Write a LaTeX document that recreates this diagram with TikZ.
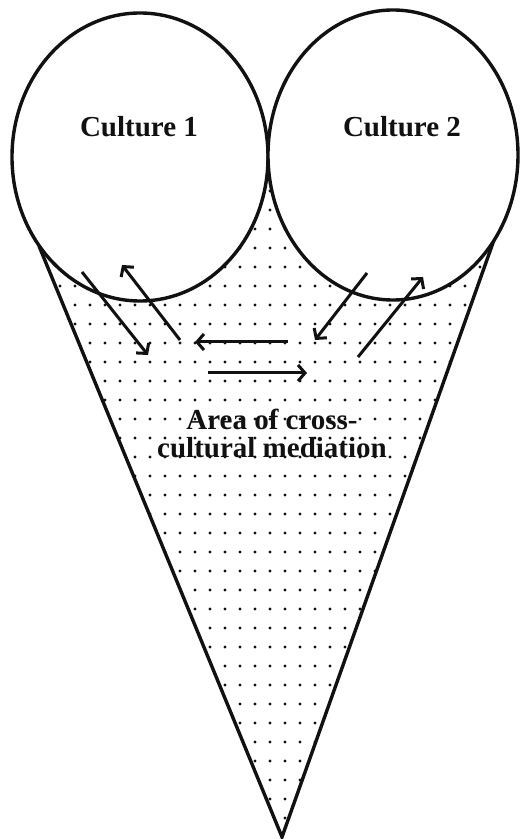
\documentclass[tikz,border=0pt]{standalone}
\usepackage{fontspec}
\setmainfont{Liberation Serif}
\usepackage{xcolor}
\usepackage{tikz}
\usetikzlibrary{arrows.meta}
\definecolor{Ink}{HTML}{111111}

\begin{document}
\begin{tikzpicture}[
  x=1pt, y=1pt,
  culture/.style={draw=Ink, line width=3.4pt, fill=white},
  edge/.style={draw=Ink, line width=3.4pt, line join=miter},
  arrow/.style={-{Straight Barb[length=7pt,width=16pt]}, line width=3pt, draw=Ink},
  label/.style={font=\bfseries\fontsize{29}{28}\selectfont, text=Ink, align=center},
  spot/.style={fill=Ink}
]
\useasboundingbox (0,0) rectangle (520,839);

\coordinate (cL) at (140,682);
\coordinate (cR) at (393,684);
\coordinate (apex) at (282,2);
\coordinate (tanL) at (39,593);
\coordinate (tanR) at (494,599);

% dotted mediation area
\begin{scope}
  \clip (tanL) -- (268,690) -- (tanR) -- (apex) -- cycle;
  \foreach \i in {0,...,34}
    \foreach \j in {0,...,44}
      \fill[spot] (15*\i, 2+19*\j) circle (1.6);
\end{scope}

\draw[edge] (tanL) -- (apex) -- (tanR);

\draw[culture] (cL) ellipse [x radius=128, y radius=144];
\draw[culture] (cR) ellipse [x radius=125, y radius=145];

\node[label] (c1) at (139,712) {Culture 1};
\node[label] (c2) at (402,712) {Culture 2};
\node[label] (area) at (272,406) {Area of cross-\\cultural mediation};

\coordinate (a1s) at (82,567);  \coordinate (a1e) at (148,484);
\coordinate (a2s) at (180,499); \coordinate (a2e) at (122,574);
\coordinate (a3s) at (288,497); \coordinate (a3e) at (195,497);
\coordinate (a4s) at (208,466); \coordinate (a4e) at (307,466);
\coordinate (a5s) at (367,566); \coordinate (a5e) at (315,499);
\coordinate (a6s) at (358,482); \coordinate (a6e) at (423,562);

\draw[arrow] (a1s) -- (a1e);
\draw[arrow] (a2s) -- (a2e);
\draw[arrow] (a3s) -- (a3e);
\draw[arrow] (a4s) -- (a4e);
\draw[arrow] (a5s) -- (a5e);
\draw[arrow] (a6s) -- (a6e);
\end{tikzpicture}
\end{document}
